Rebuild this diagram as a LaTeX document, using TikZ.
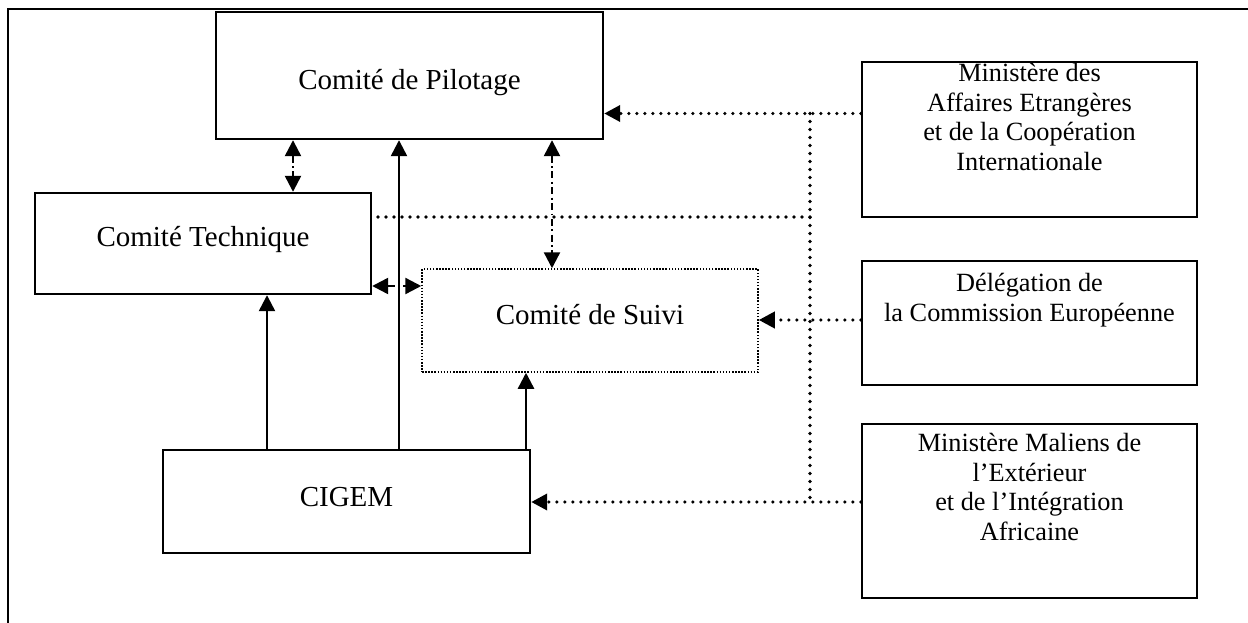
\documentclass[tikz,border=0pt]{standalone}
\usepackage{fontspec}
\setmainfont{Liberation Serif}
\usetikzlibrary{arrows.meta}
\begin{document}
\begin{tikzpicture}[x=1pt,y=-1pt,
  box/.style={draw,line width=2.4pt,inner sep=0pt},
  suivibox/.style={draw,line width=1.5pt,dash pattern=on 1.5pt off 1.6pt,inner sep=0pt},
  lbl/.style={font=\fontsize{29}{33}\selectfont,inner sep=0pt},
  rlbl/.style={font=\fontsize{26.3}{29.5}\selectfont,align=center,inner sep=0pt},
  tipx/.style={-{Triangle[length=16pt,width=16pt]}},
  dtip/.style={{Triangle[length=16pt,width=16pt]}-{Triangle[length=16pt,width=16pt]}},
  solidline/.style={line width=2.4pt},
  dashdot/.style={line width=2.4pt,dash pattern=on 7pt off 3.5pt on 1.8pt off 3.5pt},
  dotline/.style={line width=3.6pt,line cap=round,dash pattern=on 0pt off 8pt}]
\useasboundingbox (0,0) rectangle (1248,623);
% outer frame (open on right and bottom)
\draw[line width=2.6pt] (1248,9) -- (8,9) -- (8,623);
% boxes
\node[box,minimum width=387pt,minimum height=127pt] (pil) at (409.5,75.5) {};
\node[lbl] at (409.5,83) {Comité de Pilotage};
\node[box,minimum width=336pt,minimum height=101pt] (tech) at (203,243.5) {};
\node[lbl] at (203,240) {Comité Technique};
\node[suivibox,minimum width=336pt,minimum height=103pt] (suivi) at (590,320.5) {};
\node[lbl] at (590,315) {Comité de Suivi};
\node[box,minimum width=367pt,minimum height=103pt] (cigem) at (346.5,501.5) {};
\node[lbl] at (346.5,497) {CIGEM};
\node[box,minimum width=335pt,minimum height=155pt] (b1) at (1029.5,139.5) {};
\node[rlbl] at (1029.5,117) {Ministère des\\Affaires Etrangères\\et de la Coopération\\Internationale};
\node[box,minimum width=335pt,minimum height=124pt] (b2) at (1029.5,323) {};
\node[rlbl] at (1029.5,300) {Délégation de\\la Commission Européenne};
\node[box,minimum width=335pt,minimum height=174pt] (b3) at (1029.5,511) {};
\node[rlbl] at (1029.5,487) {Ministère Maliens de\\l’Extérieur\\et de l’Intégration\\Africaine};
% junction coordinates on the dotted trunk
\coordinate (j1) at (810,113.5);
\coordinate (j2) at (810,217);
\coordinate (j3) at (810,502);
% solid arrows from CIGEM
\draw[solidline,tipx] (cigem.north -| 267,0) -- (tech.south -| 267,0);
\draw[solidline,tipx] (cigem.north -| 399,0) -- (pil.south -| 399,0);
\draw[solidline,tipx] (cigem.north -| 526,0) -- (suivi.south -| 526,0);
% dash-dot double arrows
\draw[dashdot,dtip] (pil.south -| 293,0) -- (tech.north -| 293,0);
\draw[dashdot,dtip] (pil.south -| 552,0) -- (suivi.north -| 552,0);
\draw[dashdot,dtip] (tech.east |- 0,286) -- (suivi.west |- 0,286);
% dotted links from the partners
\draw[dotline,tipx] (b1.west |- j1) -- (pil.east |- j1);
\draw[dotline] (j1) -- (j3);
\draw[dotline] (j2) -- (tech.east |- j2);
\draw[dotline,tipx] (b2.west |- 0,320) -- (suivi.east |- 0,320);
\draw[dotline,tipx] (b3.west |- j3) -- (cigem.east |- j3);
\end{tikzpicture}
\end{document}
